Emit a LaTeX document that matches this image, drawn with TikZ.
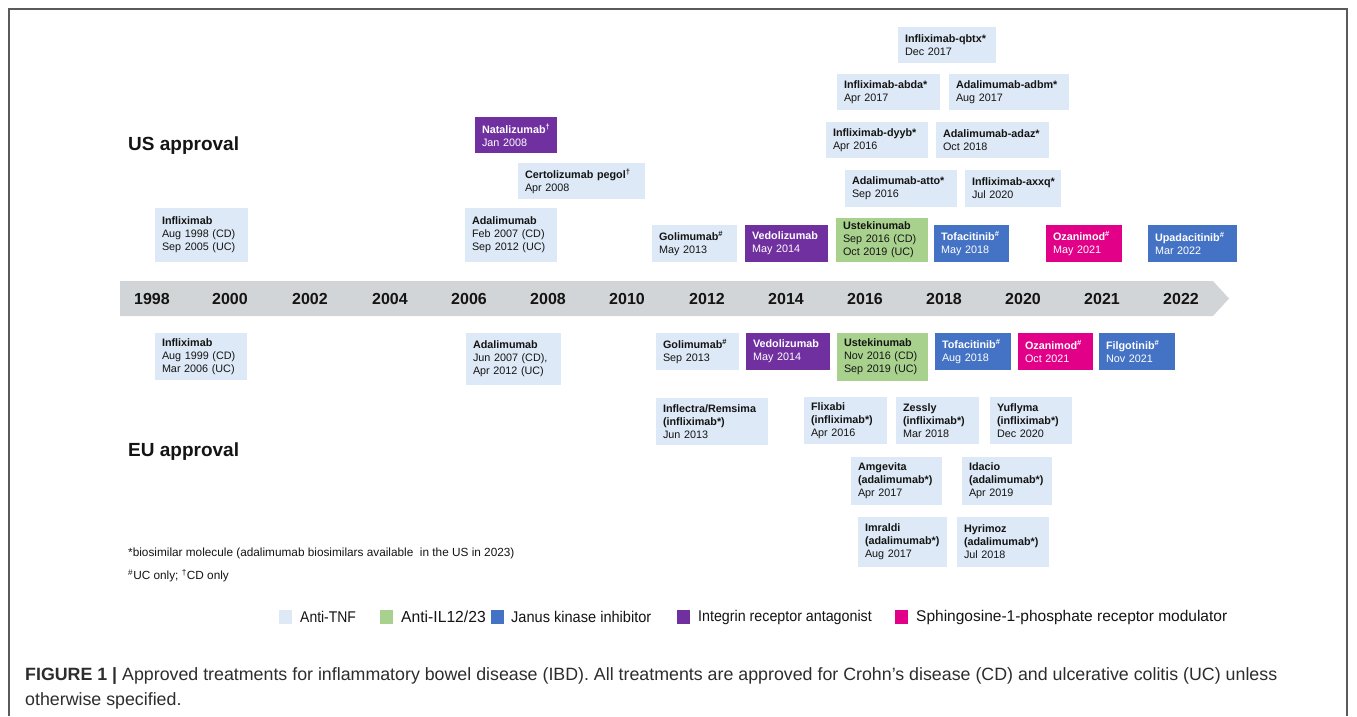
\documentclass[tikz,border=0pt]{standalone}
\usepackage{fontspec}
\setmainfont{Liberation Sans}
\begin{document}
\definecolor{tnfcol}{RGB}{221,233,246}
\definecolor{ilcol}{RGB}{169,209,142}
\definecolor{jakcol}{RGB}{68,114,196}
\definecolor{intcol}{RGB}{112,48,160}
\definecolor{s1pcol}{RGB}{225,0,135}
\definecolor{barcol}{RGB}{210,213,216}
\definecolor{framecol}{RGB}{90,90,90}
\definecolor{txtcol}{RGB}{20,20,20}
\definecolor{capcol}{RGB}{45,45,45}
\newcommand\nohyph{\hyphenpenalty=10000\relax\exhyphenpenalty=10000\relax\hbadness=10000\relax\hfuzz=20pt\relax}
\newcommand\bx[7]{%
 \pgfmathsetmacro\bxw{#5-#3}\pgfmathsetmacro\bxh{#6-#4}\pgfmathsetmacro\bxt{#5-#3-14}%
 \node[#2, minimum width=\bxw pt, minimum height=\bxh pt, text width=\bxt pt] (#1) at ({(#3+#5)/2},{(#4+#6)/2}) {\nohyph #7};}
\begin{tikzpicture}[x=1pt,y=-1pt,
 bxbase/.style={rectangle, inner xsep=7pt, inner ysep=0pt, outer sep=0pt, align=left, font=\fontsize{10.8}{13}\selectfont, text=txtcol},
 tnf/.style={bxbase, fill=tnfcol},
 il/.style={bxbase, fill=ilcol},
 jak/.style={bxbase, fill=jakcol, text=white},
 integ/.style={bxbase, fill=intcol, text=white},
 spp/.style={bxbase, fill=s1pcol, text=white},
 yearlab/.style={font=\fontsize{16}{16}\selectfont\bfseries, text=txtcol, inner sep=0pt},
 heading/.style={font=\fontsize{19}{19}\selectfont\bfseries, text=txtcol, anchor=west, inner sep=0pt},
 foot/.style={font=\fontsize{11.8}{12}\selectfont, text=txtcol, anchor=west, inner sep=0pt},
 legsq/.style={minimum width=13pt, minimum height=14pt, inner sep=0pt, outer sep=0pt},
 legtxt/.style={font=\fontsize{15.5}{15.5}\selectfont, text=txtcol, anchor=west, inner sep=0pt},
 captxt/.style={font=\fontsize{17.8}{18}\selectfont, text=capcol, anchor=west, inner sep=0pt}
]
\useasboundingbox (0,0) rectangle (1357,716);
\fill[white] (0,0) rectangle (1357,716);
\draw[framecol, line width=1.5pt] (9,716) -- (9,9) -- (1347,9) -- (1347,716);

% timeline bar
\fill[barcol] (120,281) -- (1213,281) -- (1229,298.5) -- (1213,316) -- (120,316) -- cycle;
\foreach \yr/\xx in {1998/152,2000/230,2002/310,2004/390,2006/469,2008/548,2010/627,2012/707,2014/786,2016/865,2018/944,2020/1023,2021/1102,2022/1181}
 \node[yearlab] (y\yr) at (\xx,299) {\yr};

\node[heading] (us) at (128,146) {US approval};
\node[heading] (eu) at (128,452) {EU approval};

% US boxes
\bx{infUS}{tnf}{155}{208}{248}{262}{\textbf{Infliximab}\\Aug 1998 (CD)\\Sep 2005 (UC)}
\bx{natUS}{integ}{475}{117}{557}{153}{\textbf{Natalizumab\textsuperscript{†}}\\Jan 2008}
\bx{certUS}{tnf}{518}{163}{645}{199}{\textbf{Certolizumab pegol\textsuperscript{†}}\\Apr 2008}
\bx{adaUS}{tnf}{465}{208}{557}{262}{\textbf{Adalimumab}\\Feb 2007 (CD)\\Sep 2012 (UC)}
\bx{goliUS}{tnf}{652}{225}{737}{262}{\textbf{Golimumab\textsuperscript{\#}}\\May 2013}
\bx{vedoUS}{integ}{745}{225}{828}{262}{\textbf{Vedolizumab}\\May 2014}
\bx{ustUS}{il}{836}{218}{928}{262}{\textbf{Ustekinumab}\\Sep 2016 (CD)\\Oct 2019 (UC)}
\bx{tofaUS}{jak}{934}{225}{1009}{262}{\textbf{Tofacitinib\textsuperscript{\#}}\\May 2018}
\bx{ozaUS}{spp}{1046}{225}{1122}{262}{\textbf{Ozanimod\textsuperscript{\#}}\\May 2021}
\bx{upaUS}{jak}{1148}{225}{1237}{262}{\textbf{Upadacitinib\textsuperscript{\#}}\\Mar 2022}
\bx{atto}{tnf}{845}{170}{957}{207}{\textbf{Adalimumab-atto*}\\Sep 2016}
\bx{axxq}{tnf}{965}{170}{1061}{207}{\textbf{Infliximab-axxq*}\\Jul 2020}
\bx{dyyb}{tnf}{826}{122}{928}{158}{\textbf{Infliximab-dyyb*}\\Apr 2016}
\bx{adaz}{tnf}{936}{122}{1049}{158}{\textbf{Adalimumab-adaz*}\\Oct 2018}
\bx{abda}{tnf}{837}{74}{940}{110}{\textbf{Infliximab-abda*}\\Apr 2017}
\bx{adbm}{tnf}{949}{74}{1069}{110}{\textbf{Adalimumab-adbm*}\\Aug 2017}
\bx{qbtx}{tnf}{898}{27}{996}{63}{\textbf{Infliximab-qbtx*}\\Dec 2017}

% EU boxes
\bx{infEU}{tnf}{155}{333}{247}{380}{\textbf{Infliximab}\\Aug 1999 (CD)\\Mar 2006 (UC)}
\bx{adaEU}{tnf}{466}{333}{561}{385}{\textbf{Adalimumab}\\Jun 2007 (CD),\\Apr 2012 (UC)}
\bx{goliEU}{tnf}{656}{333}{739}{370}{\textbf{Golimumab\textsuperscript{\#}}\\Sep 2013}
\bx{vedoEU}{integ}{746}{333}{830}{370}{\textbf{Vedolizumab}\\May 2014}
\bx{ustEU}{il}{837}{333}{928}{381}{\textbf{Ustekinumab}\\Nov 2016 (CD)\\Sep 2019 (UC)}
\bx{tofaEU}{jak}{935}{333}{1011}{370}{\textbf{Tofacitinib\textsuperscript{\#}}\\Aug 2018}
\bx{ozaEU}{spp}{1018}{333}{1093}{370}{\textbf{Ozanimod\textsuperscript{\#}}\\Oct 2021}
\bx{filgo}{jak}{1099}{333}{1175}{370}{\textbf{Filgotinib\textsuperscript{\#}}\\Nov 2021}
\bx{inflectra}{tnf}{656}{398}{768}{445}{\textbf{Inflectra/Remsima}\\\textbf{(infliximab*)}\\Jun 2013}
\bx{flixabi}{tnf}{804}{397}{887}{444}{\textbf{Flixabi}\\\textbf{(infliximab*)}\\Apr 2016}
\bx{zessly}{tnf}{896}{397}{979}{444}{\textbf{Zessly}\\\textbf{(infliximab*)}\\Mar 2018}
\bx{yuflyma}{tnf}{990}{397}{1072}{444}{\textbf{Yuflyma}\\\textbf{(infliximab*)}\\Dec 2020}
\bx{amgevita}{tnf}{851}{457}{942}{505}{\textbf{Amgevita}\\\textbf{(adalimumab*)}\\Apr 2017}
\bx{idacio}{tnf}{962}{457}{1052}{505}{\textbf{Idacio}\\\textbf{(adalimumab*)}\\Apr 2019}
\bx{imraldi}{tnf}{858}{517}{947}{567}{\textbf{Imraldi}\\\textbf{(adalimumab*)}\\Aug 2017}
\bx{hyrimoz}{tnf}{957}{517}{1049}{567}{\textbf{Hyrimoz}\\\textbf{(adalimumab*)}\\Jul 2018}

% footnotes
\node[foot] (fn1) at (128,553) {*biosimilar molecule (adalimumab biosimilars available\ \ in the US in 2023)};
\node[foot] (fn2) at (128,576) {\textsuperscript{\#}UC only; \textsuperscript{†}CD only};

% legend
\node[legsq, fill=tnfcol] (lq1) at (285,617) {};
\node[legtxt] (lt1) at (300,617) {\scalebox{0.9}[1]{Anti-TNF}};
\node[legsq, fill=ilcol] (lq2) at (386,617) {};
\node[legtxt, font=\fontsize{16}{16}\selectfont] (lt2) at (401,617) {\scalebox{0.98}[1]{Anti-IL12/23}};
\node[legsq, fill=jakcol] (lq3) at (497,617) {};
\node[legtxt] (lt3) at (511,617) {\scalebox{0.94}[1]{Janus kinase inhibitor}};
\node[legsq, fill=intcol] (lq4) at (683,617) {};
\node[legtxt] (lt4) at (698,617) {\scalebox{0.92}[1]{Integrin receptor antagonist}};
\node[legsq, fill=s1pcol] (lq5) at (901,617) {};
\node[legtxt] (lt5) at (916,617) {Sphingosine-1-phosphate receptor modulator};

% caption
\node[captxt] (cap1) at (25,676) {\textbf{FIGURE 1 |} Approved treatments for inflammatory bowel disease (IBD). All treatments are approved for Crohn’s disease (CD) and ulcerative colitis (UC) unless};
\node[captxt] (cap2) at (25,701) {otherwise specified.};
\end{tikzpicture}
\end{document}
